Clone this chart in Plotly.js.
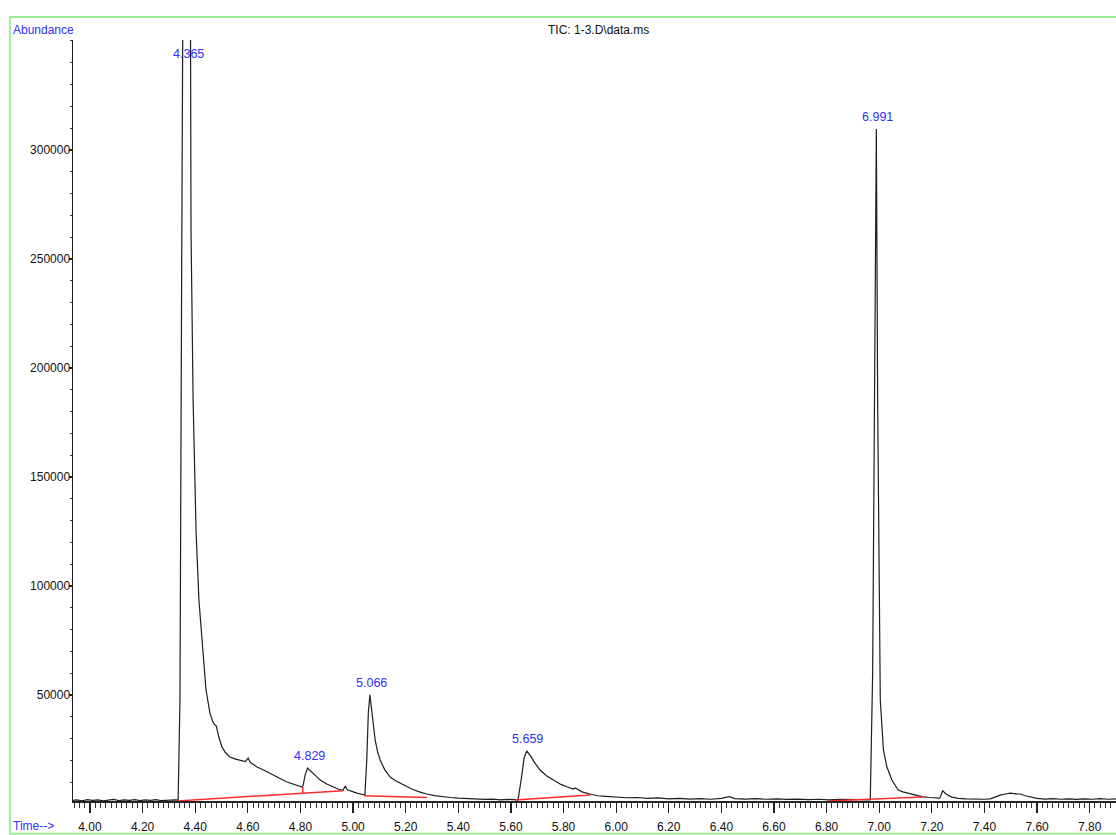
<!DOCTYPE html>
<html>
<head>
<meta charset="utf-8">
<script src="https://cdn.plot.ly/plotly-3.0.1.min.js"></script>
<style>html,body{margin:0;padding:0;background:#fff;}#chart{width:1116px;height:835px;}</style>
</head>
<body>
<div id="chart"></div>
<script>
// Retention time (min) and abundance of the TIC trace
const times = [3.935,3.95,3.97,3.99,4.01,4.03,4.05,4.07,4.09,4.11,4.13,4.15,4.17,4.19,4.21,4.23,4.25,4.27,4.29,4.31,4.325,4.335,
  4.342,4.348,4.365,4.382,4.384,4.392,4.403,4.414,4.425,4.430,4.441,4.456,4.466,4.475,4.480,4.490,4.502,4.515,4.532,4.550,4.570,4.590,4.601,4.610,4.620,4.635,4.660,4.684,4.710,4.730,4.749,4.770,4.790,4.806,
  4.810,4.818,4.827,4.840,4.855,4.875,4.900,4.924,4.945,4.962,4.970,4.978,4.995,5.015,5.035,5.045,
  5.052,5.058,5.064,5.072,5.078,5.084,5.093,5.103,5.120,5.141,5.160,5.179,5.200,5.225,5.255,5.280,5.310,5.342,5.370,5.400,5.430,5.471,5.500,5.530,5.560,5.590,5.615,5.627,
  5.640,5.650,5.660,5.675,5.690,5.711,5.735,5.760,5.790,5.815,5.837,5.845,5.870,5.901,5.93,5.96,6.00,6.04,6.08,6.12,6.16,6.20,6.24,6.28,6.32,6.36,6.40,6.43,6.45,6.49,6.53,6.57,6.61,6.65,6.69,6.73,6.77,6.81,6.85,6.89,6.93,6.96,6.966,
  6.975,6.983,6.989,6.994,7.000,7.004,7.016,7.029,7.048,7.072,7.090,7.110,7.135,7.162,7.190,7.213,7.230,7.241,7.255,7.276,7.30,7.33,7.352,7.38,7.40,7.422,7.44,7.46,7.48,7.498,7.52,7.536,7.555,7.574,7.60,7.631,7.66,7.69,7.72,7.75,7.78,7.81,7.84,7.87,7.90];
const abundance = [1700,1900,1500,2000,1700,1900,1500,1800,2100,1600,1900,1700,2000,1600,1900,1700,2000,1600,1800,1700,1900,1800,
  47700,231200,700000,360000,263300,185300,125700,93600,75200,66100,52300,41700,38000,36200,35800,30500,26100,23500,21600,20700,20200,19500,21100,19000,18200,17000,15600,14200,12800,11300,10100,9200,8300,7800,
  8500,13500,16500,15000,13000,11000,9200,7800,6800,6300,8300,6500,5700,5000,4400,4200,
  20000,42000,50100,40800,34000,29400,24000,20200,15800,12400,10800,9600,8200,6800,5500,4600,3900,3300,3000,2700,2500,2300,2100,2300,1900,2100,1800,1900,
  12000,21000,24400,22000,19000,15600,13000,11000,9000,7800,6900,7400,5600,4600,3800,3500,3200,2900,3000,2600,2800,2400,2600,2300,2500,2200,2600,3400,2500,2300,2500,2200,2400,2100,2300,2000,2200,1900,2100,1900,2000,1900,2000,
  60000,220000,309600,185000,93600,47700,24800,17100,11000,6400,5600,5000,4000,3400,3000,2750,2700,6100,4500,3200,2600,2400,2300,2500,2200,2400,3200,4100,4600,5000,4700,4600,3800,3200,2600,2300,2500,2200,2400,2100,2400,2200,2500,2200,2400];

// Integration baselines (start/end time and abundance)
const baseStartT = [4.333, 4.809, 5.042, 5.616, 6.802];
const baseStartV = [1450, 7800, 3800, 1835, 1450];
const baseEndT   = [4.962, 4.809, 5.281, 5.901, 7.169];
const baseEndV   = [6100, 4850, 3000, 4100, 3200];

// Labelled peaks
const peakTimes  = [4.365, 4.829, 5.066, 5.659, 6.991];
const peakApex   = [700000, 16500, 50100, 24400, 309600];
const peakLabels = ["4.365", "4.829", "5.066", "5.659", "6.991"];

const xTicks = [4.00,4.20,4.40,4.60,4.80,5.00,5.20,5.40,5.60,5.80,6.00,6.20,6.40,6.60,6.80,7.00,7.20,7.40,7.60,7.80];
const yTicks = [50000,100000,150000,200000,250000,300000];

const yRange = [1400, 350400];
const xRange = [3.9354, 7.90];

const traces = [];
for (let i = 0; i < baseStartT.length; i++) {
  traces.push({
    x: [baseStartT[i], baseEndT[i]], y: [baseStartV[i], baseEndV[i]],
    mode: 'lines', line: {color: '#ff2a2a', width: 1.5}, hoverinfo: 'skip', showlegend: false
  });
}
traces.unshift({
  x: times, y: abundance, mode: 'lines',
  line: {color: '#1e1e1e', width: 1.2}, showlegend: false
});

const blue = '#2f2fff';
const annotations = peakTimes.map((t, i) => {
  const off = peakApex[i] > yRange[1];
  return {
    x: t, y: off ? yRange[1] : peakApex[i], xref: 'x', yref: 'y',
    text: peakLabels[i], showarrow: false,
    xanchor: 'center', yanchor: off ? 'top' : 'bottom',
    yshift: off ? -5 : 3, xshift: off ? 2 : 1,
    font: {family: 'Liberation Sans, Arial, sans-serif', size: 12.5, color: blue}
  };
});
annotations.push(
  {xref: 'paper', yref: 'paper', x: -0.0594, y: 1.0131, xanchor: 'left', yanchor: 'middle', showarrow: false,
   text: 'Abundance', font: {family: 'Liberation Sans, Arial, sans-serif', size: 12, color: blue}},
  {xref: 'paper', yref: 'paper', x: 0.5034, y: 1.0131, xanchor: 'center', yanchor: 'middle', showarrow: false,
   text: 'TIC: 1-3.D\\data.ms', font: {family: 'Liberation Sans, Arial, sans-serif', size: 12, color: '#111'}},
  {xref: 'paper', yref: 'paper', x: -0.0594, y: -0.0329, xanchor: 'left', yanchor: 'middle', showarrow: false,
   text: 'Time-->', font: {family: 'Liberation Sans, Arial, sans-serif', size: 12, color: blue}}
);

const layout = {
  width: 1116, height: 835,
  margin: {l: 73, r: 0, t: 40, b: 34, pad: 0},
  paper_bgcolor: '#fff', plot_bgcolor: '#fff',
  font: {family: 'Liberation Sans, Arial, sans-serif', size: 12, color: '#111'},
  xaxis: {
    range: xRange, tickvals: xTicks, ticktext: xTicks.map(v => v.toFixed(2)),
    showgrid: false, zeroline: false, showline: true, linecolor: '#222', linewidth: 1.5,
    ticks: 'outside', ticklen: 10, tickwidth: 1.2, tickcolor: '#222', ticklabelstandoff: 4,
    minor: {dtick: 0.02, tick0: 4.0, ticks: 'outside', ticklen: 5, tickwidth: 1, tickcolor: '#333', showgrid: false},
    tickfont: {size: 12, color: '#111'}
  },
  yaxis: {
    range: yRange, tickvals: yTicks, ticktext: yTicks.map(v => String(v)),
    showgrid: false, zeroline: false, showline: true, linecolor: '#222', linewidth: 1.5,
    ticks: 'outside', ticklen: 3, tickwidth: 1.2, tickcolor: '#222', ticklabelstandoff: -4,
    minor: {dtick: 10000, tick0: 0, ticks: 'outside', ticklen: 2, tickwidth: 1, tickcolor: '#333', showgrid: false},
    tickfont: {size: 12, color: '#111'}
  },
  shapes: [{
    type: 'rect', xref: 'paper', yref: 'paper',
    x0: -0.0604, x1: 1.006, y0: -0.043, y1: 1.0302,
    line: {color: '#9ef09e', width: 2}, fillcolor: 'rgba(0,0,0,0)', layer: 'below'
  }],
  annotations: annotations
};

Plotly.newPlot('chart', traces, layout, {displayModeBar: false, staticPlot: true});
</script>
</body>
</html>
